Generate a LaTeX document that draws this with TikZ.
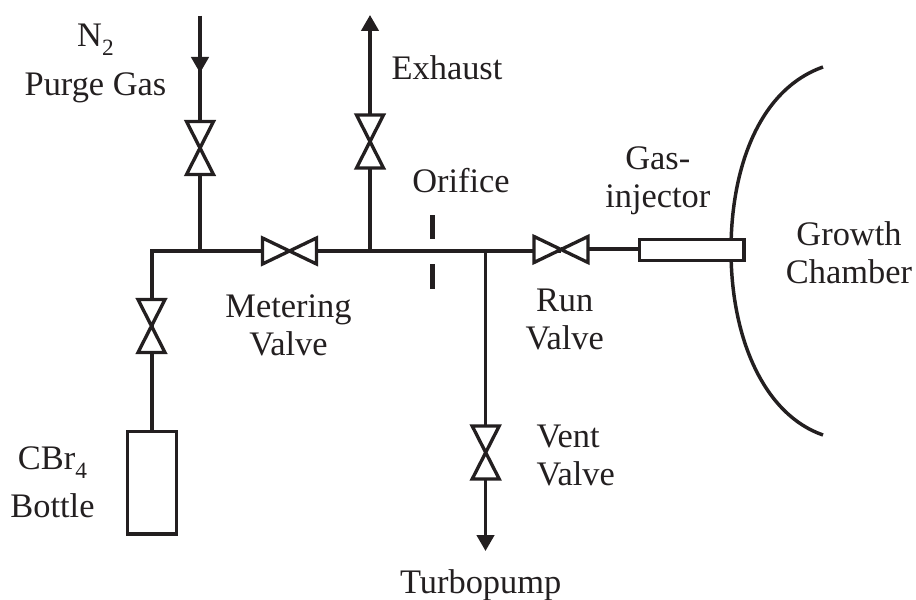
\documentclass[tikz,border=0pt]{standalone}
\usepackage{fontspec}
\setmainfont{Liberation Serif}
\usetikzlibrary{arrows.meta}
\definecolor{ink}{HTML}{231F20}
\tikzset{
 pipe/.style={line width=2.6pt,color=ink},
 flow/.style={pipe,-{Triangle[length=12pt,width=13pt]}},
 valveshape/.style={line width=2.5pt,draw=ink,fill=white,miter limit=10},
 orificebar/.style={line width=3.8pt,color=ink},
 lbl/.style={font=\fontsize{25.8}{28.5}\selectfont,text=ink,align=center,inner sep=0pt,anchor=base},
 bodybox/.style={draw=ink,line width=2.6pt,fill=white,inner sep=0pt,outer sep=0pt}
}
\newcommand{\px}{0.75pt}
\newcommand{\lowsub}[1]{\raisebox{-0.27em}{\fontsize{17.5}{17.5}\selectfont #1}}
\newcommand{\vvalve}[2]{\draw[valveshape] (#1,#2+26.5) -- (#1+13.5,#2+26.5) -- (#1-13.5,#2-26.5) -- (#1+13.5,#2-26.5) -- (#1-13.5,#2+26.5) -- cycle;}
\newcommand{\hvalve}[2]{\draw[valveshape] (#1-27,#2+13) -- (#1-27,#2-13) -- (#1+27,#2+13) -- (#1+27,#2-13) -- cycle;}
\begin{document}
\begin{tikzpicture}[x=\px,y=-\px]
\useasboundingbox (0,0) rectangle (916,599);
\coordinate (n2start) at (200,16);
\coordinate (n2tip) at (200,73);
\coordinate (n2j) at (200,251);
\coordinate (leftc) at (151,251);
\coordinate (exj) at (370,251);
\coordinate (exend) at (370,15);
\coordinate (ventj) at (485.5,251);
\coordinate (ventend) at (485.5,551);
\coordinate (runl) at (561,251);
\coordinate (runr) at (561,249);
\coordinate (orT) at (432.7,215);
\coordinate (orTb) at (432.7,239);
\coordinate (orB) at (432.7,264);
\coordinate (orBb) at (432.7,289);
\coordinate (chtop) at (823,67);
\coordinate (chmid) at (731,250);
\coordinate (chbot) at (823,435);
\node[bodybox,anchor=north west,minimum width=36.5pt,minimum height=77pt] (bottle) at (127.7,431.5) {};
\node[bodybox,anchor=west,minimum width=78.5pt,minimum height=15.8pt] (inj) at (639.5,250) {};
\draw[pipe] (n2start) -- (n2j);
\draw[flow] (n2start) -- (n2tip);
\draw[pipe,line join=miter] (bottle.north) -- (bottle.north |- leftc) -- (ventj) -- (runl);
\draw[pipe] (runr) -- (runr -| inj.west);
\draw[flow] (exj) -- (exend);
\draw[flow] (ventj) -- (ventend);
\draw[orificebar] (orT) -- (orTb);
\draw[orificebar] (orB) -- (orBb);
\draw[line width=2.6pt,color=ink] (chtop) .. controls (758,90) and (731,170) .. (chmid) .. controls (731,340) and (765,415) .. (chbot);
\vvalve{200}{148}
\vvalve{370}{141.5}
\vvalve{151.5}{326}
\vvalve{485.7}{452.5}
\hvalve{289.5}{251}
\hvalve{561}{249.5}
\node[bodybox,anchor=west,minimum width=78.5pt,minimum height=15.8pt] at (639.5,250) {};
\node[lbl] (t1) at (95.5,95.5) {N\lowsub{2}\\[8.5pt]Purge Gas};
\node[lbl] (t2) at (447,80) {Exhaust};
\node[lbl] (t3) at (461,192) {Orifice};
\node[lbl] (t4) at (657.8,207) {Gas-\\injector};
\node[lbl] (t5) at (849,283) {Growth\\Chamber};
\node[lbl] (t6) at (288.5,355) {Metering\\Valve};
\node[lbl] (t7) at (564.7,349) {Run\\Valve};
\node[lbl,align=left] (t8) at (575.7,485) {Vent\\Valve};
\node[lbl] (t9) at (52.5,517) {CBr\lowsub{4}\\[7.5pt]Bottle};
\node[lbl] (t10) at (480.7,593) {Turbopump};
\end{tikzpicture}
\end{document}
